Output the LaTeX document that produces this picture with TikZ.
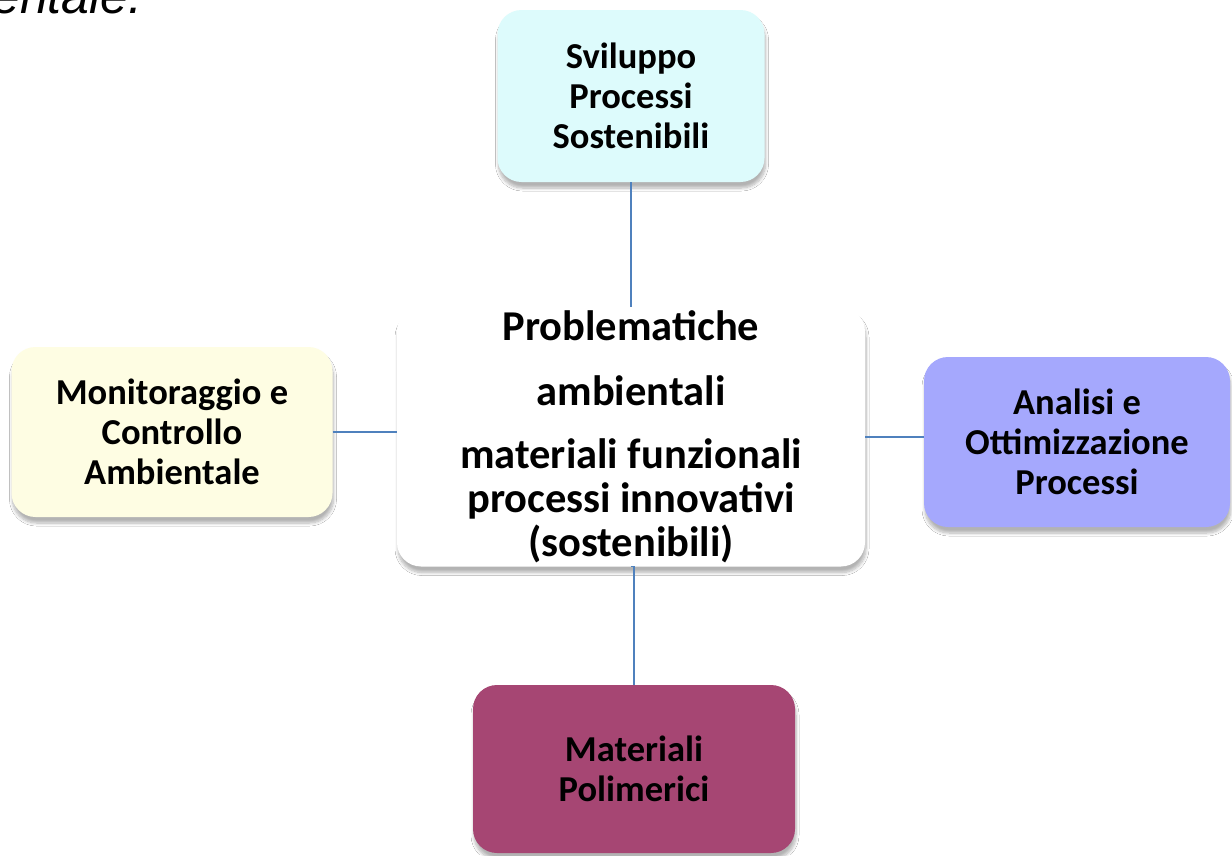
\documentclass[tikz,border=0pt]{standalone}
\usepackage{fontspec}
\setmainfont{Carlito}
\newfontfamily\titlefont{Liberation Sans}
\usetikzlibrary{shadows.blur}

\definecolor{svilcol}{HTML}{DDFBFC}
\definecolor{monitcol}{HTML}{FEFDE3}
\definecolor{analcol}{HTML}{A5A8FD}
\definecolor{polimcol}{HTML}{A64673}
\definecolor{linkcol}{HTML}{4F81BD}

\tikzset{
  topic/.style={rounded corners=24pt, align=center, font=\fontsize{36.5}{40}\selectfont\bfseries,
    blur shadow={shadow xshift=1pt, shadow yshift=-6pt, shadow blur steps=8, shadow blur radius=3pt, shadow opacity=30}},
  link/.style={linkcol, line width=1.3pt}
}

\begin{document}
\begin{tikzpicture}[x=1pt,y=-1pt]
  \clip (0,0) rectangle (1232,855);
  \fill[white] (0,0) rectangle (1232,855);
  \node[anchor=base east, font=\titlefont\itshape\fontsize{50}{60}\selectfont] (resto) at (146,13) {entale.};
  % nodi
  \node[topic, fill=white, minimum width=468pt, minimum height=255pt,
        font=\fontsize{42.5}{44}\selectfont\bfseries] (prob) at (631,437)
        {Problematiche\\[21pt] ambientali\\[19pt] materiali funzionali\\ processi innovativi\\ (sostenibili)};
  \node[topic, fill=svilcol, minimum width=267pt, minimum height=172pt] (svil) at (631,96)
        {Sviluppo\\ Processi\\ Sostenibili};
  \node[topic, fill=monitcol, minimum width=321pt, minimum height=170pt] (monit) at (172,432)
        {Monitoraggio e\\ Controllo\\ Ambientale};
  \node[topic, fill=analcol, minimum width=306pt, minimum height=170pt] (anal) at (1077,442)
        {Analisi e\\ Ottimizzazione\\ Processi};
  \node[topic, fill=polimcol, minimum width=322pt, minimum height=168pt] (polim) at (634,769)
        {Materiali\\ Polimerici};
  % collegamenti
  \draw[link] (svil.south) -- (prob.north);
  \draw[link] (monit.east) -- (monit.east -| prob.west);
  \draw[link] (prob.east) -- (prob.east -| anal.west);
  \draw[link] (prob.south) -- (prob.south -| polim.north) -- (polim.north);
\end{tikzpicture}
\end{document}
